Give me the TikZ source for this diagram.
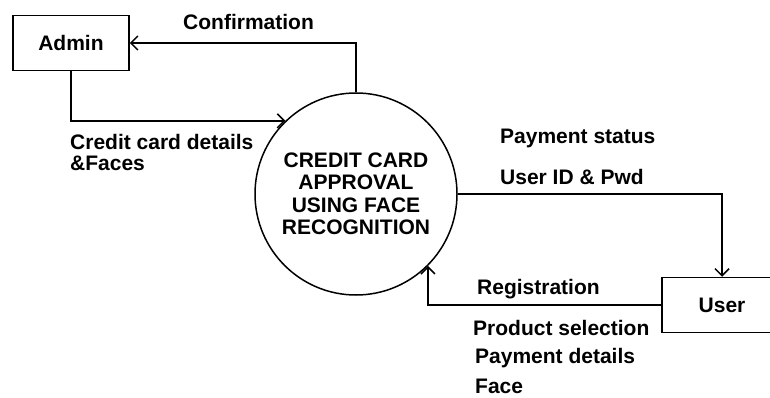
\documentclass[tikz,border=0pt]{standalone}
\usepackage{fontspec}
\setmainfont{Liberation Sans}
\usetikzlibrary{arrows.meta}
\usetikzlibrary{positioning}

\begin{document}
\begin{tikzpicture}[x=1pt,y=1pt]
\tikzstyle{entity}=[
        rectangle,
        draw,
        line width=1.5pt,
        minimum width=116pt,
        minimum height=55pt,
        font=\fontsize{21}{24}\selectfont\bfseries
]
\tikzstyle{process}=[circle,draw,line width=1.5pt,minimum size=202pt,
align=center,inner sep=0pt,font=\fontsize{21}{22.5}\selectfont\bfseries]
\tikzstyle{flowlabel}=[anchor=west,inner sep=0pt,align=left,
font=\fontsize{21}{21}\selectfont\bfseries]
%style des flèches
\tikzstyle{flow}=[-{Straight Barb[length=7pt,width=14pt,line width=1.5pt]},line width=1.5pt]
\useasboundingbox (0,0) rectangle (770,397);
\clip (0,0) rectangle (770,397);
%placement des nœuds
\node[entity] (admin) at (71,354) {Admin};
\node[process] (approval) at (356,203) {CREDIT CARD\\APPROVAL\\USING FACE\\RECOGNITION};
\node[entity,minimum width=120pt] (user) at (722,92) {User};
%étiquettes
\node[flowlabel] (confirm) at (183,375) {Confirmation};
\node[flowlabel] (carddetails) at (70,244.5) {Credit card details\\\&Faces};
\node[flowlabel] (paystatus) at (500,259) {Payment status};
\node[flowlabel] (login) at (500,220) {User ID \& Pwd};
\node[flowlabel] (register) at (477,108) {Registration};
\node[flowlabel] (product) at (473,69) {Product selection};
\node[flowlabel] (paydetails) at (475,39) {Payment details};
\node[flowlabel] (face) at (475,11) {Face};
%placement des flèches
\draw[flow] (approval.north) |- (admin.east);
\draw[flow] (admin.south) |- (approval.134);
\draw[flow] (approval.east) -| (user.north);
\draw[flow] (user.west) -| (approval.-45);
\end{tikzpicture}
\end{document}
